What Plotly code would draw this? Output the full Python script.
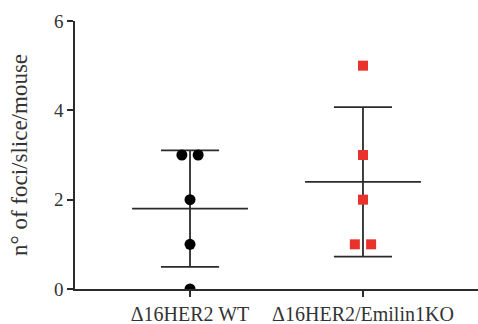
import numpy as np
import plotly.graph_objects as go

categories = ["Δ16HER2 WT", "Δ16HER2/Emilin1KO"]
wt_values = [0, 1, 2, 3, 3]
wt_jitter = [0, 0, 0, -1, 1]
ko_values = [1, 1, 2, 3, 5]
ko_jitter = [-1, 1, 0, 0, 0]
y_ticks = [0, 2, 4, 6]

positions = [1, 2]
jit = 0.047
mean_half = 0.335
cap_half = 0.168
line_color = "#2b2b2b"

fig = go.Figure()

groups = [
    (wt_values, wt_jitter, "#000000", "circle", 11),
    (ko_values, ko_jitter, "#e8322b", "square", 10),
]

for pos, (vals, jj, col, sym, size) in zip(positions, groups):
    arr = np.array(vals, dtype=float)
    m = arr.mean()
    sd = arr.std(ddof=1)
    lo, hi = m - sd, m + sd
    xs = [pos - mean_half, pos + mean_half, None,
          pos - cap_half, pos + cap_half, None,
          pos - cap_half, pos + cap_half, None,
          pos, pos]
    ys = [m, m, None, hi, hi, None, lo, lo, None, lo, hi]
    fig.add_trace(go.Scatter(x=xs, y=ys, mode="lines",
                             line=dict(color=line_color, width=1.8),
                             hoverinfo="skip", showlegend=False))

for pos, (vals, jj, col, sym, size) in zip(positions, groups):
    fig.add_trace(go.Scatter(
        x=[pos + j * jit for j in jj], y=vals, mode="markers",
        marker=dict(color=col, symbol=sym, size=size, line=dict(width=0)),
        showlegend=False))

font_family = "serif"
fig.update_layout(
    width=478, height=324,
    margin=dict(l=75, r=0, t=21, b=35),
    paper_bgcolor="white", plot_bgcolor="white",
    font=dict(family=font_family, color="#333333"),
    xaxis=dict(range=[0.335, 2.665], tickvals=positions, ticktext=categories,
               showgrid=False, zeroline=False, showline=True,
               linecolor=line_color, linewidth=1.5,
               ticks="outside", ticklen=6, tickwidth=1.5, tickcolor=line_color,
               tickfont=dict(size=20, family=font_family, color="#333333")),
    yaxis=dict(range=[0, 6], tickvals=y_ticks,
               showgrid=False, zeroline=False, showline=True,
               linecolor=line_color, linewidth=1.5,
               ticks="outside", ticklen=6, tickwidth=1.5, tickcolor=line_color,
               tickfont=dict(size=19, family=font_family, color="#333333"),
               title=dict(text="n° of foci/slice/mouse", standoff=20,
                          font=dict(size=23, family=font_family, color="#333333"))),
)

fig.write_html("out.html")
